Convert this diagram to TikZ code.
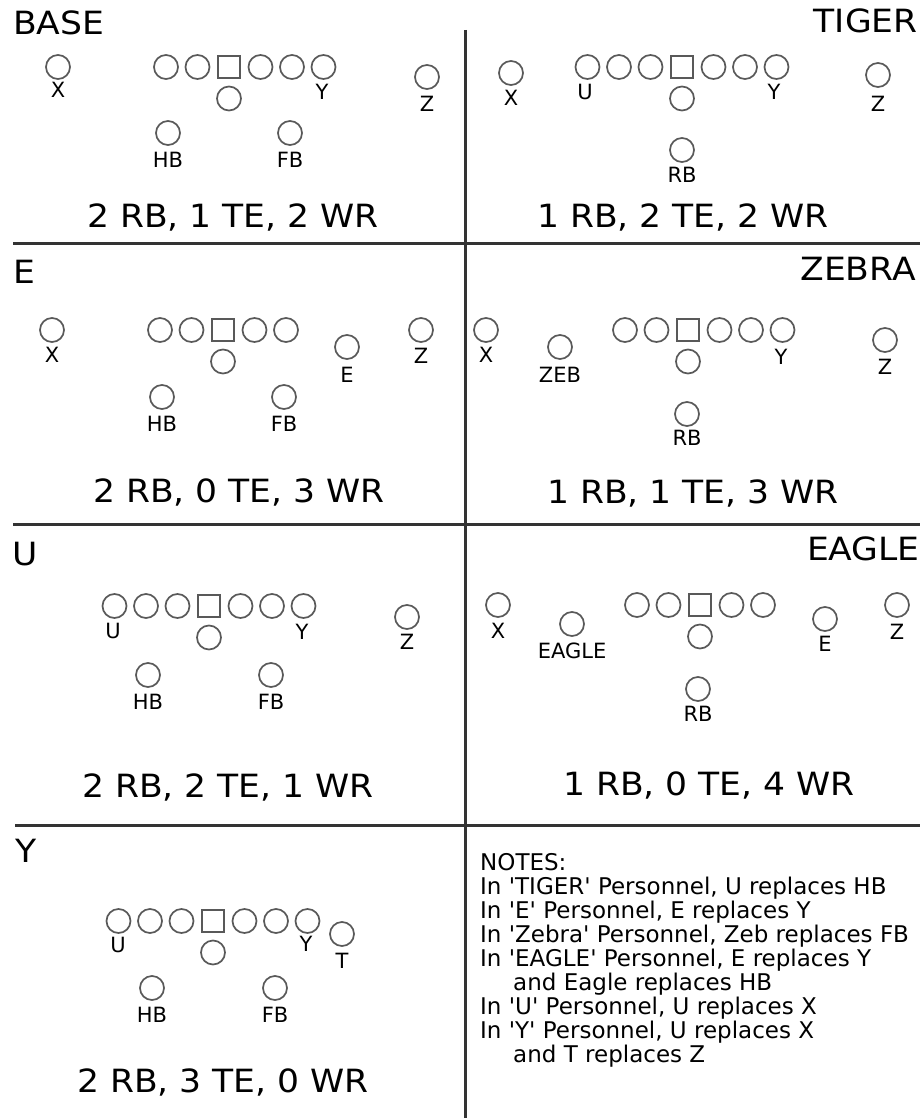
\documentclass[tikz,border=0pt]{standalone}
\usepackage{fontspec}
\setmainfont{DejaVu Sans}
\newfontfamily\headfont[FakeStretch=1.08]{DejaVu Sans}
\newcommand\sq{\textquotesingle}
\tikzset{
  field/.style={line width=3pt, draw=black!80},
  player/.style={circle, draw=black!65, line width=1.7pt, minimum size=24pt, inner sep=0pt},
  snapper/.style={rectangle, draw=black!65, line width=1.7pt, minimum size=21.5pt, inner sep=0pt},
  poslabel/.style={inner sep=0pt, font=\fontsize{21}{24}\selectfont},
  grouptitle/.style={inner sep=0pt, font=\headfont\fontsize{32}{38}\selectfont},
  groupcount/.style={inner sep=0pt, anchor=base, font=\headfont\fontsize{32}{38}\selectfont},
  notetext/.style={inner sep=0pt, anchor=north west, align=left, font=\fontsize{23}{24}\selectfont},
}
% offensive line: prefix, centre x, y, linemen left of centre, linemen right of centre
\newcommand\offline[5]{%
  \node[snapper] (#1-c) at (#2,#3) {};
  \foreach \i in {1,...,#4} \node[player] (#1-l\i) at ({#2-31.5*\i},#3) {};
  \foreach \i in {1,...,#5} \node[player] (#1-r\i) at ({#2+31.5*\i},#3) {};
  \node[player] (#1-qb) at (#2,{#3+31.5}) {};
}
% skill player: name, x, y, label y, label
\newcommand\skill[5]{%
  \node[player] (#1) at (#2,#3) {};
  \node[poslabel] (#1-t) at (#2,#4) {#5};
}
\begin{document}
\begin{tikzpicture}[x=1pt,y=-1pt]
\useasboundingbox (0,0) rectangle (923,1118);

% field dividers
\coordinate (vtop) at (465,30);   \coordinate (vbot) at (465,1118);
\coordinate (h1w) at (13,243);    \coordinate (h1e) at (920,243);
\coordinate (h2w) at (13,524);    \coordinate (h2e) at (920,524);
\coordinate (h3w) at (15,825);    \coordinate (h3e) at (920,825);
\draw[field] (vtop) -- (vbot);
\draw[field] (h1w) -- (h1e);
\draw[field] (h2w) -- (h2e);
\draw[field] (h3w) -- (h3e);

% ---- BASE
\node[grouptitle, anchor=base west] (base-title) at (13,35) {BASE};
\offline{base}{229}{67}{2}{3}
\node[poslabel] (base-y) at (322,92) {Y};
\skill{base-x}{58}{67}{90}{X}
\skill{base-z}{427}{77}{104}{Z}
\skill{base-hb}{168}{133}{160}{HB}
\skill{base-fb}{290}{133}{160}{FB}
\node[groupcount] (base-count) at (233,227) {2 RB, 1 TE, 2 WR};

% ---- TIGER
\node[grouptitle, anchor=base east] (tiger-title) at (918,33) {TIGER};
\offline{tiger}{682}{67}{3}{3}
\node[poslabel] (tiger-u) at (585,92) {U};
\node[poslabel] (tiger-y) at (774,92) {Y};
\skill{tiger-x}{511}{73}{98}{X}
\skill{tiger-z}{878}{75}{104}{Z}
\skill{tiger-rb}{682}{150}{175}{RB}
\node[groupcount] (tiger-count) at (683,227) {1 RB, 2 TE, 2 WR};

% ---- E
\node[grouptitle, anchor=base west] (e-title) at (13,283) {E};
\offline{e}{223}{330}{2}{2}
\skill{e-x}{52}{330}{355}{X}
\skill{e-e}{347}{347}{375}{E}
\skill{e-z}{421}{330}{356}{Z}
\skill{e-hb}{162}{397}{424}{HB}
\skill{e-fb}{284}{397}{424}{FB}
\node[groupcount] (e-count) at (239,502) {2 RB, 0 TE, 3 WR};

% ---- ZEBRA
\node[grouptitle, anchor=base east] (zebra-title) at (916,280) {ZEBRA};
\offline{zebra}{688}{330}{2}{3}
\node[poslabel] (zebra-y) at (781,357) {Y};
\skill{zebra-x}{486}{330}{355}{X}
\skill{zebra-zeb}{560}{347}{375}{ZEB}
\skill{zebra-z}{885}{340}{367}{Z}
\skill{zebra-rb}{687}{414}{438}{RB}
\node[groupcount] (zebra-count) at (693,503) {1 RB, 1 TE, 3 WR};

% ---- U
\node[grouptitle, anchor=base west] (u-title) at (12,565) {U};
\offline{u}{209}{606}{3}{3}
\node[poslabel] (u-u) at (113,631) {U};
\node[poslabel] (u-y) at (302,632) {Y};
\skill{u-z}{407}{617}{642}{Z}
\skill{u-hb}{148}{675}{702}{HB}
\skill{u-fb}{271}{675}{702}{FB}
\node[groupcount] (u-count) at (228,797) {2 RB, 2 TE, 1 WR};

% ---- EAGLE
\node[grouptitle, anchor=base east] (eagle-title) at (920,560) {EAGLE};
\offline{eagle}{700}{605}{2}{2}
\skill{eagle-x}{498}{605}{631}{X}
\skill{eagle-eagle}{572}{624}{651}{EAGLE}
\skill{eagle-e}{825}{619}{644}{E}
\skill{eagle-z}{897}{605}{632}{Z}
\skill{eagle-rb}{698}{689}{714}{RB}
\node[groupcount] (eagle-count) at (709,795) {1 RB, 0 TE, 4 WR};

% ---- Y
\node[grouptitle, anchor=base west] (y-title) at (15,862) {Y};
\offline{y}{213}{921}{3}{3}
\node[poslabel] (y-u) at (118,945) {U};
\node[poslabel] (y-y) at (306,944) {Y};
\skill{y-t}{342}{934}{961}{T}
\skill{y-hb}{152}{988}{1015}{HB}
\skill{y-fb}{275}{988}{1015}{FB}
\node[groupcount] (y-count) at (223,1092) {2 RB, 3 TE, 0 WR};

% ---- notes
\node[notetext] (notes) at (480,853) {NOTES:\\
In \sq TIGER\sq\ Personnel, U replaces HB\\
In \sq E\sq\ Personnel, E replaces Y\\
In \sq Zebra\sq\ Personnel, Zeb replaces FB\\
In \sq EAGLE\sq\ Personnel, E replaces Y\\
\hspace*{33pt}and Eagle replaces HB\\
In \sq U\sq\ Personnel, U replaces X\\
In \sq Y\sq\ Personnel, U replaces X\\
\hspace*{33pt}and T replaces Z};
\end{tikzpicture}
\end{document}
